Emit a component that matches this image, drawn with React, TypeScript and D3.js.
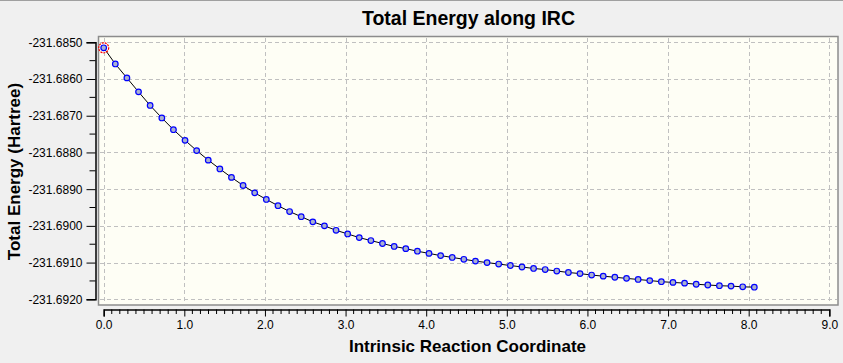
import * as d3 from 'd3';
import React, { useEffect, useRef } from 'react';

// IRC coordinate (x) and total energy in Hartree (y)
const ircCoord = [
  0.0, 0.144, 0.288, 0.432, 0.576, 0.721, 0.865, 1.009, 1.153, 1.297,
  1.441, 1.585, 1.729, 1.873, 2.017, 2.162, 2.306, 2.45, 2.594, 2.738,
  2.882, 3.026, 3.17, 3.314, 3.458, 3.603, 3.747, 3.891, 4.035, 4.179,
  4.323, 4.467, 4.611, 4.755, 4.899, 5.044, 5.188, 5.332, 5.476, 5.62,
  5.764, 5.908, 6.052, 6.196, 6.34, 6.485, 6.629, 6.773, 6.917, 7.061,
  7.205, 7.349, 7.493, 7.637, 7.781, 7.926, 8.07,
];
const totalEnergy = [
  -231.68515, -231.68559, -231.68597, -231.68635, -231.68672, -231.68706, -231.68738, -231.68767, -231.68795, -231.68821,
  -231.68845, -231.68868, -231.6889, -231.6891, -231.68928, -231.68945, -231.68961, -231.68975, -231.68989, -231.69,
  -231.69012, -231.69022, -231.69032, -231.6904, -231.69048, -231.69056, -231.69062, -231.69069, -231.69075, -231.69081,
  -231.69086, -231.69091, -231.69096, -231.691, -231.69104, -231.69108, -231.69112, -231.69116, -231.69119, -231.69123,
  -231.69127, -231.6913, -231.69134, -231.69137, -231.6914, -231.69143, -231.69146, -231.69149, -231.69152, -231.69154,
  -231.69156, -231.69159, -231.69161, -231.69163, -231.69164, -231.69166, -231.69167,
];
const xTicks = [0, 1, 2, 3, 4, 5, 6, 7, 8, 9];
const yTicks = [-231.685, -231.686, -231.687, -231.688, -231.689, -231.69, -231.691, -231.692];
const selectedPoint = 0;

const title = 'Total Energy along IRC';
const xTitle = 'Intrinsic Reaction Coordinate';
const yTitle = 'Total Energy (Hartree)';

function IrcChart() {
  const svgRef = useRef<SVGSVGElement>(null);

  useEffect(() => {
    const width = 843;
    const height = 363;
    const font = '"Liberation Sans", Arial, sans-serif';

    const svg = d3.select(svgRef.current);
    svg.selectAll('*').remove();
    svg.attr('width', width).attr('height', height);

    const x = d3.scaleLinear().domain([0, 9]).range([103.7, 829.3]);
    const y = d3.scaleLinear().domain([-231.685, -231.692]).range([42.3, 299.3]);

    // background + window edge
    svg.append('rect').attr('width', width).attr('height', height).attr('fill', '#f0f0f0');
    svg.append('line')
      .attr('x1', 0).attr('x2', width).attr('y1', 0.5).attr('y2', 0.5)
      .attr('stroke', '#a0a0a0');

    // plot frame
    svg.append('rect')
      .attr('x', 98.5).attr('y', 36.5)
      .attr('width', 739.5).attr('height', 268.5)
      .attr('fill', '#fefef5')
      .attr('stroke', '#8c8c8c')
      .attr('stroke-width', 1.5);

    // grid
    const grid = svg.append('g')
      .attr('stroke', '#c0c0c0')
      .attr('stroke-dasharray', '4,3');
    grid.selectAll('.vg').data(xTicks).enter().append('line')
      .attr('x1', d => Math.round(x(d)) + 0.5).attr('x2', d => Math.round(x(d)) + 0.5)
      .attr('y1', 38).attr('y2', 304);
    grid.selectAll('.hg').data(yTicks).enter().append('line')
      .attr('x1', 100).attr('x2', 837)
      .attr('y1', d => Math.round(y(d)) + 0.5).attr('y2', d => Math.round(y(d)) + 0.5);

    // plain hyphen minus like the original software
    const fmt4 = (d: number) => d3.format('.4f')(d).replace('\u2212', '-');

    // y axis
    const yAxisG = svg.append('g').attr('transform', 'translate(95.5,0)');
    yAxisG.call(
      d3.axisLeft(y)
        .tickValues(yTicks)
        .tickSize(9)
        .tickPadding(4)
        .tickFormat(d => fmt4(d as number)),
    );
    const yMinor = d3.range(-231.6855, -231.6920, -0.001);
    yAxisG.selectAll('.minor').data(yMinor).enter().append('line')
      .attr('x1', -6).attr('x2', 0)
      .attr('y1', d => y(d)).attr('y2', d => y(d))
      .attr('stroke', '#000');

    // x axis
    const xAxisG = svg.append('g').attr('transform', 'translate(0,309.5)');
    xAxisG.call(
      d3.axisBottom(x)
        .tickValues(xTicks)
        .tickSize(7)
        .tickPadding(4)
        .tickFormat(d => d3.format('.1f')(d as number)),
    );
    const xMinor = d3.range(0, 90).filter(i => i % 10 !== 0).map(i => i / 10);
    xAxisG.selectAll('.minor').data(xMinor).enter().append('line')
      .attr('x1', d => x(d)).attr('x2', d => x(d))
      .attr('y1', 0).attr('y2', 4.5)
      .attr('stroke', '#000');

    svg.selectAll('.domain').attr('stroke', '#000').attr('stroke-width', 1.5);
    svg.selectAll('.tick line').attr('stroke', '#000');
    svg.selectAll('.tick text')
      .attr('font-family', font)
      .attr('font-size', 12)
      .attr('fill', '#000');

    // data line + markers
    const pts = ircCoord.map((c, i) => [c, totalEnergy[i]] as [number, number]);
    const line = d3.line<[number, number]>()
      .x(d => x(d[0]))
      .y(d => y(d[1]));
    svg.append('path')
      .datum(pts)
      .attr('fill', 'none')
      .attr('stroke', '#000')
      .attr('stroke-width', 1)
      .attr('d', line);

    svg.selectAll('.pt').data(pts).enter().append('circle')
      .attr('cx', d => x(d[0]))
      .attr('cy', d => y(d[1]))
      .attr('r', 2.8)
      .attr('fill', '#a9b0d0')
      .attr('stroke', '#0000ff')
      .attr('stroke-width', 1.2);

    const sel = pts[selectedPoint];
    svg.append('circle')
      .attr('cx', x(sel[0]))
      .attr('cy', y(sel[1]))
      .attr('r', 5)
      .attr('fill', 'none')
      .attr('stroke', '#ff0000')
      .attr('stroke-width', 1.2)
      .attr('stroke-dasharray', '2,1');

    // titles
    svg.append('text')
      .attr('x', 468.5).attr('y', 25)
      .attr('text-anchor', 'middle')
      .attr('font-family', font).attr('font-weight', 'bold').attr('font-size', 19.5)
      .text(title);
    svg.append('text')
      .attr('x', 467.5).attr('y', 352.3)
      .attr('text-anchor', 'middle')
      .attr('font-family', font).attr('font-weight', 'bold').attr('font-size', 17)
      .text(xTitle);
    svg.append('text')
      .attr('transform', 'translate(20,171.5) rotate(-90)')
      .attr('text-anchor', 'middle')
      .attr('font-family', font).attr('font-weight', 'bold').attr('font-size', 17)
      .text(yTitle);
  }, []);

  return <svg ref={svgRef} style={{ position: 'absolute', left: 0, top: 0, display: 'block' }} />;
}

export default function App() {
  return <IrcChart />;
}
